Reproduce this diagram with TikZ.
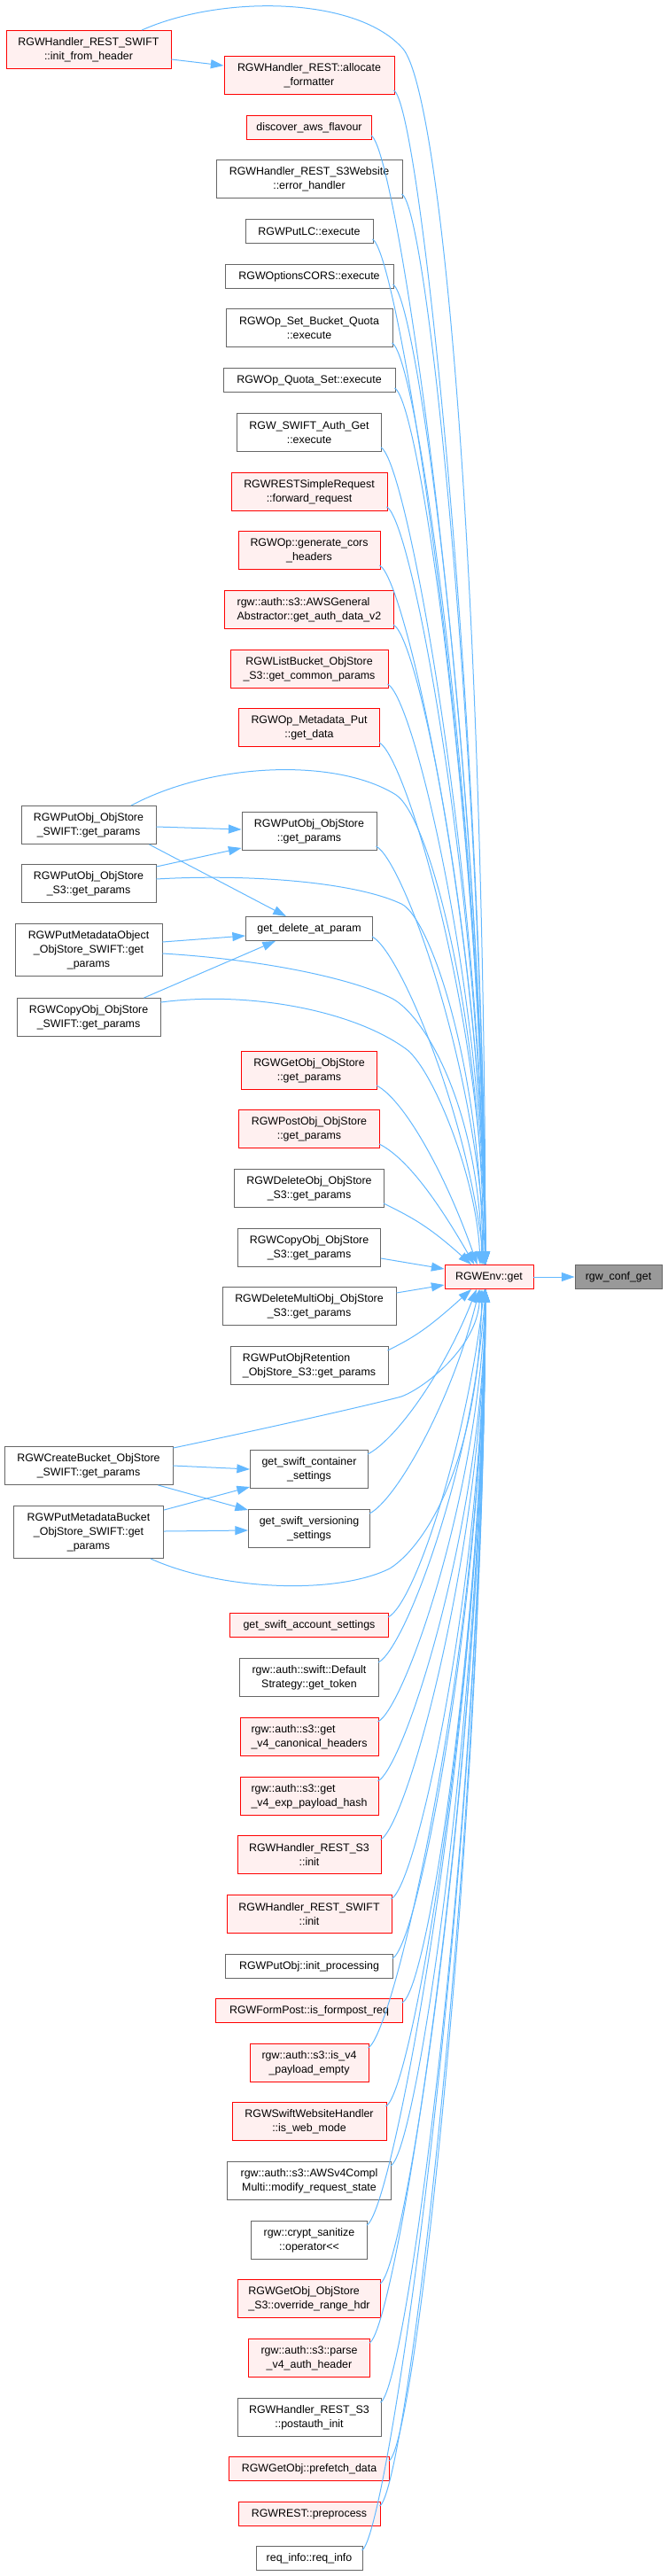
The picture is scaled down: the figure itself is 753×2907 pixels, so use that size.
\documentclass[tikz,border=0pt]{standalone}
\usepackage{fontspec}
\setmainfont{Liberation Sans}
\usetikzlibrary{arrows.meta,calc}
\definecolor{edgeblue}{HTML}{63B8FF}
\definecolor{redfill}{HTML}{FFF0F0}
\definecolor{greyborder}{HTML}{666666}
\definecolor{rootfill}{HTML}{999999}
\tikzset{
  box/.style={draw, rectangle, inner sep=0pt, line width=0.7pt, align=center, font=\fontsize{9.3}{12}\selectfont},
  gbox/.style={box, draw=greyborder, fill=white},
  rbox/.style={box, draw=red, fill=redfill},
  rootbox/.style={box, draw=greyborder, fill=rootfill},
  bw/.style={minimum width=#1*0.75pt},
  one/.style={minimum height=27*0.75pt},
  two/.style={minimum height=43*0.75pt},
  three/.style={minimum height=59*0.75pt},
  edge/.style={draw=edgeblue, line width=0.75pt, -{Triangle[length=11pt,width=7.5pt]}},
}
\newcommand\toenv[2]{%
  \pgfmathsetmacro\dy{1441-#2}%
  \pgfmathsetmacro\ady{abs(\dy)}%
  \pgfmathsetmacro\ex{max(4,25-\ady/20)}%
  \pgfmathsetmacro\hh{max(3,60-\ady/10)}%
  \pgfmathsetmacro\vv{0.45*\ady}%
  \ifdim\dy pt>0pt
    \draw[edge] ($(#1.south east)+(-1,5)$) .. controls +(30,-15) and +(-\hh,\vv) .. ($(env.north)+(-\ex,0)$);
  \else
    \draw[edge] ($(#1.north east)+(-1,-5)$) .. controls +(30,15) and +(-\hh,-\vv) .. ($(env.south)+(-\ex,0)$);
  \fi
}
\begin{document}
\begin{tikzpicture}[x=0.75pt,y=0.75pt]
\useasboundingbox (0,0) rectangle (753,-2907);
% left column
\node[rbox,bw=186,two] (L1) at (100,-56) {RGWHandler\_REST\_SWIFT\\::init\_from\_header};
\node[gbox,bw=152,two] (L2) at (100,-931) {RGWPutObj\_ObjStore\\\_SWIFT::get\_params};
\node[gbox,bw=152,two] (L3) at (100,-997) {RGWPutObj\_ObjStore\\\_S3::get\_params};
\node[gbox,bw=166,three] (L4) at (100,-1072) {RGWPutMetadataObject\\\_ObjStore\_SWIFT::get\\\_params};
\node[gbox,bw=162,two] (L5) at (100,-1148) {RGWCopyObj\_ObjStore\\\_SWIFT::get\_params};
\node[gbox,bw=190,two] (L6) at (100,-1654) {RGWCreateBucket\_ObjStore\\\_SWIFT::get\_params};
\node[gbox,bw=169,three] (L7) at (100,-1729) {RGWPutMetadataBucket\\\_ObjStore\_SWIFT::get\\\_params};
% middle column
\node[rbox,bw=192,two] (M1) at (349,-85) {RGWHandler\_REST::allocate\\\_formatter};
\node[rbox,bw=141,one] (M2) at (349,-144) {discover\_aws\_flavour};
\node[gbox,bw=210,two] (M3) at (349,-202) {RGWHandler\_REST\_S3Website\\::error\_handler};
\node[gbox,bw=144,one] (M4) at (349,-261) {RGWPutLC::execute};
\node[gbox,bw=190,one] (M5) at (349,-312) {RGWOptionsCORS::execute};
\node[gbox,bw=188,two] (M6) at (349,-370) {RGWOp\_Set\_Bucket\_Quota\\::execute};
\node[gbox,bw=194,one] (M7) at (349,-429) {RGWOp\_Quota\_Set::execute};
\node[gbox,bw=163,two] (M8) at (349,-488) {RGW\_SWIFT\_Auth\_Get\\::execute};
\node[rbox,bw=176,two] (M9) at (349,-555) {RGWRESTSimpleRequest\\::forward\_request};
\node[rbox,bw=160,two] (M10) at (349,-621) {RGWOp::generate\_cors\\\_headers};
\node[rbox,bw=191,two,align=left] (M11) at (349,-688) {rgw::auth::s3::AWSGeneral\\Abstractor::get\_auth\_data\_v2};
\node[rbox,bw=178,two] (M12) at (349,-755) {RGWListBucket\_ObjStore\\\_S3::get\_common\_params};
\node[rbox,bw=159,two] (M13) at (349,-821) {RGWOp\_Metadata\_Put\\::get\_data};
\node[gbox,bw=152,two] (M14) at (349,-938) {RGWPutObj\_ObjStore\\::get\_params};
\node[gbox,bw=143,one] (M15) at (349,-1048) {get\_delete\_at\_param};
\node[rbox,bw=153,two] (M16) at (349,-1208) {RGWGetObj\_ObjStore\\::get\_params};
\node[rbox,bw=159,two] (M17) at (349,-1274) {RGWPostObj\_ObjStore\\::get\_params};
\node[gbox,bw=169,two] (M18) at (349,-1341) {RGWDeleteObj\_ObjStore\\\_S3::get\_params};
\node[gbox,bw=161,two] (M19) at (349,-1408) {RGWCopyObj\_ObjStore\\\_S3::get\_params};
\node[gbox,bw=196,two] (M20) at (349,-1474) {RGWDeleteMultiObj\_ObjStore\\\_S3::get\_params};
\node[gbox,bw=178,two,align=left] (M21) at (349,-1541) {RGWPutObjRetention\\\_ObjStore\_S3::get\_params};
\node[gbox,bw=133,two] (M22) at (349,-1658) {get\_swift\_container\\\_settings};
\node[gbox,bw=137,two] (M23) at (349,-1725) {get\_swift\_versioning\\\_settings};
\node[rbox,bw=179,one] (M24) at (349,-1834) {get\_swift\_account\_settings};
\node[gbox,bw=157,two] (M25) at (349,-1893) {rgw::auth::swift::Default\\Strategy::get\_token};
\node[rbox,bw=156,two,align=left] (M26) at (349,-1960) {rgw::auth::s3::get\\\_v4\_canonical\_headers};
\node[rbox,bw=156,two,align=left] (M27) at (349,-2027) {rgw::auth::s3::get\\\_v4\_exp\_payload\_hash};
\node[rbox,bw=162,two] (M28) at (349,-2093) {RGWHandler\_REST\_S3\\::init};
\node[rbox,bw=186,two] (M29) at (349,-2160) {RGWHandler\_REST\_SWIFT\\::init};
\node[gbox,bw=189,one] (M30) at (349,-2219) {RGWPutObj::init\_processing};
\node[rbox,bw=211,one] (M31) at (349,-2269) {RGWFormPost::is\_formpost\_req};
\node[rbox,bw=134,two] (M32) at (349,-2328) {rgw::auth::s3::is\_v4\\\_payload\_empty};
\node[rbox,bw=174,two] (M33) at (349,-2394) {RGWSwiftWebsiteHandler\\::is\_web\_mode};
\node[gbox,bw=185,two] (M34) at (349,-2461) {rgw::auth::s3::AWSv4Compl\\Multi::modify\_request\_state};
\node[gbox,bw=131,two] (M35) at (349,-2528) {rgw::crypt\_sanitize\\::operator<{}<};
\node[rbox,bw=161,two,align=left] (M36) at (349,-2594) {RGWGetObj\_ObjStore\\\_S3::override\_range\_hdr};
\node[rbox,bw=137,two] (M37) at (349,-2661) {rgw::auth::s3::parse\\\_v4\_auth\_header};
\node[gbox,bw=162,two] (M38) at (349,-2728) {RGWHandler\_REST\_S3\\::postauth\_init};
\node[rbox,bw=181,one] (M39) at (349,-2786) {RGWGetObj::prefetch\_data};
\node[rbox,bw=160,one] (M40) at (349,-2837) {RGWREST::preprocess};
\node[gbox,bw=120,one] (M41) at (349,-2887) {req\_info::req\_info};
% right column
\node[rbox,bw=100,one] (env) at (552,-1441) {RGWEnv::get};
\node[rootbox,bw=98,one] (conf) at (698,-1441) {rgw\_conf\_get};
% edges
\draw[edge] (env.east) -- (conf.west);
\foreach \n/\yy in {M1/85,M2/144,M3/202,M4/261,M5/312,M6/370,M7/429,M8/488,M9/555,M10/621,M11/688,M12/755,M13/821,M14/938,M15/1048,M16/1208,M17/1274,M18/1341,M21/1541,M22/1658,M23/1725,M24/1834,M25/1893,M26/1960,M27/2027,M28/2093,M29/2160,M30/2219,M31/2269,M32/2328,M33/2394,M34/2461,M35/2528,M36/2594,M37/2661,M38/2728,M39/2786,M40/2837,M41/2887}{\toenv{\n}{\yy}}
\draw[edge] ($(M19.east)+(0,-12)$) -- ($(env.west)+(0,9)$);
\draw[edge] ($(M20.east)+(0,15)$) -- ($(env.west)+(0,-9)$);
% left to middle
\draw[edge] ($(L1.east)+(0,-11)$) -- ($(M1.west)+(0,11)$);
\draw[edge] ($(L2.east)+(0,-2)$) -- ($(M14.west)+(0,2)$);
\draw[edge] ($(L2.south east)+(-8,0)$) -- ($(M15.north)+(-26,0)$);
\draw[edge] ($(L3.north east)+(0,-3)$) -- ($(M14.south west)+(0,3)$);
\draw[edge] ($(L4.east)+(0,9)$) -- ($(M15.west)+(0,-8)$);
\draw[edge] ($(L5.north east)+(-19,0)$) -- ($(M15.south)+(-38,0)$);
\draw[edge] (L6.east) -- (M22.west);
\draw[edge] ($(L6.south east)+(-17,0)$) -- ($(M23.north west)+(0,-1)$);
\draw[edge] ($(L7.north east)+(0,-5)$) -- ($(M22.south west)+(0,2)$);
\draw[edge] ($(L7.east)+(0,1)$) -- ($(M23.west)+(0,-2)$);
% left to env
\draw[edge] ($(L1.north)+(60,0)$) .. controls (250,6) and (400,4) .. (453,-53) .. controls (495,-90) and (546,-600) .. ($(env.north)+(-4,0)$);
\draw[edge] ($(L2.north)+(48,0)$) .. controls (240,-860) and (380,-855) .. (447,-897) .. controls (485,-922) and (544,-1150) .. ($(env.north)+(-6,0)$);
\draw[edge] ($(L3.east)+(0,5)$) .. controls (280,-986) and (400,-995) .. (453,-1020) .. controls (485,-1035) and (542,-1200) .. ($(env.north)+(-7,0)$);
\draw[edge] ($(L4.east)+(0,-4)$) .. controls (300,-1083) and (400,-1105) .. (443,-1127) .. controls (480,-1147) and (540,-1250) .. ($(env.north)+(-8,0)$);
\draw[edge] ($(L5.north east)+(0,-5)$) .. controls (280,-1118) and (400,-1140) .. (460,-1185) .. controls (490,-1210) and (538,-1330) .. ($(env.north)+(-10,0)$);
\draw[edge] ($(L6.north east)+(0,-2)$) .. controls (300,-1612) and (420,-1585) .. (453,-1576) .. controls (480,-1566) and (538,-1520) .. ($(env.south)+(-10,0)$);
\draw[edge] ($(L7.south)+(70,0)$) .. controls (250,-1795) and (380,-1800) .. (440,-1770) .. controls (480,-1745) and (540,-1650) .. ($(env.south)+(-8,0)$);
\end{tikzpicture}
\end{document}
